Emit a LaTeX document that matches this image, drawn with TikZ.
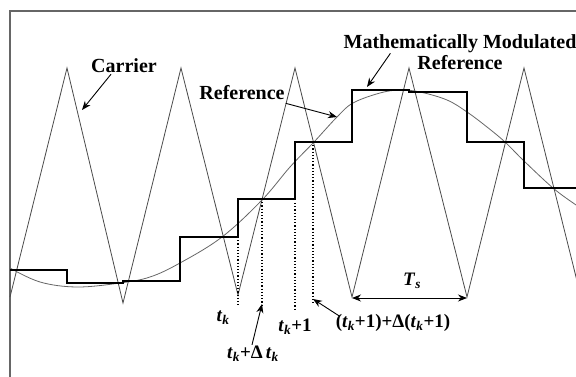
\documentclass[tikz,border=0pt]{standalone}
\usepackage{fontspec}
\setmainfont{Liberation Serif}
\usetikzlibrary{arrows.meta, positioning, calc}
\definecolor{cgray}{HTML}{4a4a4a}
\newcommand{\tk}{\textit{t}\textsubscript{\textit{k}}}

\begin{document}
\begin{tikzpicture}[
  x=1pt, y=-1pt,
  lbl/.style={font=\fontsize{20}{23}\selectfont\bfseries, inner sep=1pt},
  tlbl/.style={font=\fontsize{19}{22}\selectfont\bfseries, inner sep=1pt},
  frame/.style={draw=black!60, line width=1.2pt},
  carrier/.style={draw=cgray, line width=0.8pt},
  sine/.style={draw=black!60, line width=0.8pt},
  stair/.style={draw=black, line width=1.3pt},
  guide/.style={dotted, line width=1.2pt},
  arr/.style={-{Stealth[length=9pt,width=7pt]}, line width=0.9pt},
]
  \useasboundingbox (0,0) rectangle (576,377);
  \clip (0,0) rectangle (576,377);
  \draw[frame] (10,11) rectangle (600,400);

  % carrier
  \draw[carrier] (10,297) -- (67,68) -- (123,303) -- (181,68) -- (238,295)
    -- (295,68) -- (352,297) -- (409,68) -- (467,297) -- (524,68) -- (581,297);

  % reference
  \draw[sine] plot[smooth, tension=0.6] coordinates {
    (10,268) (40,282) (77,287) (120,283) (150,277) (180,263) (222,237)
    (262,200) (290,167) (314,142) (337,117) (353,103) (380,93) (400,90)
    (420,92) (447,100) (467,112) (487,127) (505,142) (523,160) (553,188)
    (576,205) (585,211)};

  % sampled reference
  \draw[stair] (10,270) -| (67,283) -| (123,281) -| (180,237) -| (238,199)
    -| (295,142) -| (352,90) -| (409,92) -| (467,142) -| (524,188) -- (576,188);

  % sample instants
  \coordinate (tkb)   at (238,305);
  \coordinate (tkdb)  at (262,306);
  \coordinate (tk1b)  at (295,310);
  \coordinate (tk1db) at (313,303);
  \draw[guide] (238,237) -- (tkb);
  \draw[guide] (262,199) -- (tkdb);
  \draw[guide] (295,203) -- (tk1b);
  \draw[guide] (313,142) -- (tk1db);

  \node[tlbl] (tk)   at (223,318) {\tk};
  \node[tlbl] (tkd)  at (253,354) {\tk+Δ\,\tk};
  \node[tlbl] (tk1)  at (295,327) {\tk+1};
  \node[tlbl] (tk1d) at (393,323) {(\tk+1)+Δ(\tk+1)};
  \draw[arr] ([xshift=-1pt]tkd.north) -- ([yshift=2pt]tkdb);
  \draw[arr] ([xshift=5pt,yshift=-3pt]tk1d.north west) -- ([yshift=4pt]tk1db);

  % period
  \coordinate (ts1) at (352,298);
  \coordinate (ts2) at (467,298);
  \draw[arr, {Stealth[length=9pt,width=7pt]}-{Stealth[length=9pt,width=7pt]}] (ts1) -- (ts2);
  \node[tlbl] (ts) at (412,281) {\textit{T}\textsubscript{\textit{s}}};

  % labels
  \node[lbl] (lcar) at (124,66) {Carrier};
  \coordinate (carpt) at (82,110);
  \draw[arr] ([xshift=-13pt]lcar.south) -- (carpt);

  \node[lbl] (lref) at (242,93) {Reference};
  \coordinate (refpt) at (337,117);
  \draw[arr] ([yshift=-2pt]lref.south east) -- (refpt);

  \node[lbl] (lmm) at (460,44) {Mathematically Modulated};
  \node[lbl, below=0pt of lmm] (lmmr) {Reference};
  \coordinate (mmpt) at (367,87);
  \draw[arr] ([xshift=48pt,yshift=1pt]lmm.south west) -- (mmpt);
\end{tikzpicture}
\end{document}
